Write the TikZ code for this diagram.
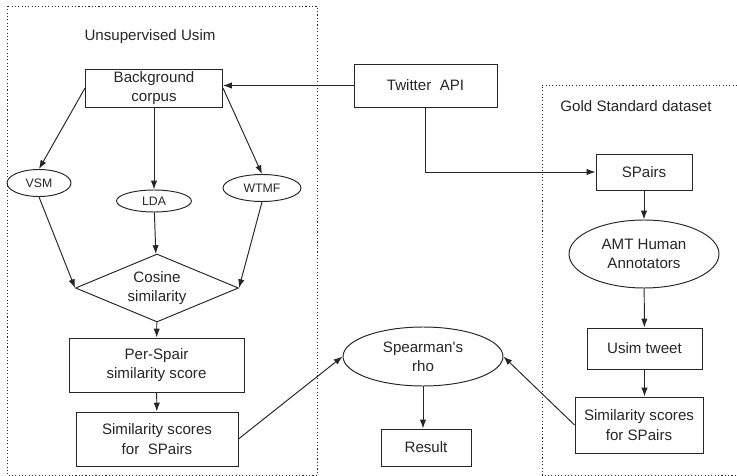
\documentclass[tikz,border=0pt]{standalone}
\usepackage{fontspec}
\setmainfont{Liberation Sans}
\usetikzlibrary{shapes.geometric,arrows.meta}

\tikzset{
	block/.style={draw, rectangle, align=center, inner sep=1pt, font=\fontsize{8.6}{11}\selectfont},
	oval/.style={draw, ellipse, align=center, inner sep=0pt, font=\fontsize{8.6}{11}\selectfont},
	smalloval/.style={draw, ellipse, inner sep=0pt, font=\fontsize{7}{8}\selectfont},
	heading/.style={font=\fontsize{8.6}{11}\selectfont},
	arr/.style={-{Latex[length=5pt,width=3.6pt]}},
	frame/.style={dash pattern=on 0.6pt off 1.3pt}
}

\begin{document}
\begin{tikzpicture}[x=0.02cm, y=-0.02cm, line width=0.55pt, color=black!85]
	\useasboundingbox (0,0) rectangle (737,476);

	% the two dotted groups
	\draw[frame] (7,6) rectangle (317,475);
	\draw[frame] (737,85) -| (542,475) -- (737,475);
	\node[heading] (unsup) at (150,37) {Unsupervised Usim};
	\node[heading] (gold) at (636,106) {Gold Standard dataset};

	% unsupervised side
	\node[block, minimum width=2.74cm, minimum height=0.76cm] (bg) at (154,88) {Background\\corpus};
	\node[smalloval, minimum width=1.28cm, minimum height=0.54cm] (vsm) at (39,183) {VSM};
	\node[smalloval, minimum width=1.5cm, minimum height=0.44cm] (lda) at (154,201) {LDA};
	\node[smalloval, minimum width=1.56cm, minimum height=0.54cm] (wtmf) at (262,188) {WTMF};
	\node[draw, diamond, shape aspect=2.4, inner sep=0pt, align=center,
		minimum width=3.26cm, minimum height=1.36cm,
		font=\fontsize{8.6}{11}\selectfont] (cos) at (157,288) {Cosine\\similarity};
	\node[block, minimum width=3.5cm, minimum height=1.08cm] (per) at (156.5,365) {Per-Spair\\similarity score};
	\node[block, minimum width=3.24cm, minimum height=1.08cm] (lsim) at (157,439) {Similarity scores\\for\ \ SPairs};

	% middle
	\node[block, minimum width=2.86cm, minimum height=0.86cm] (tw) at (425.5,85.5) {Twitter\ \ API};
	\node[oval, minimum width=3.2cm, minimum height=1.18cm] (spear) at (423,356.5) {Spearman\textquotesingle s\\rho};
	\node[block, minimum width=1.8cm, minimum height=0.74cm] (res) at (426,447.5) {Result};

	% gold standard side
	\node[block, minimum width=1.92cm, minimum height=0.72cm] (sp) at (644,172) {SPairs};
	\node[oval, minimum width=3cm, minimum height=1.36cm] (amt) at (644,254) {AMT Human\\Annotators};
	\node[block, minimum width=2.3cm, minimum height=0.82cm] (usim) at (644.5,348.5) {Usim tweet};
	\node[block, minimum width=2.56cm, minimum height=1.12cm] (rsim) at (639,425) {Similarity scores\\for SPairs};

	\draw[arr] (tw.west) -- (tw.west -| bg.east);
	\draw[arr] (tw.south) |- (sp.west);

	\draw[arr] (bg.west) -- (vsm.north);
	\draw[arr] (bg.south) -- (lda.north);
	\draw[arr] (bg.east) -- (wtmf.north);
	\draw[arr] (vsm.south) -- (cos.west);
	\draw[arr] (lda) -- (cos);
	\draw[arr] (wtmf.south) -- (cos.east);
	\draw[arr] (cos) -- (per);
	\draw[arr] (per) -- (lsim);

	\draw[arr] (lsim.east) -- (spear.west);
	\draw[arr] (rsim.west) -- (spear.east);
	\draw[arr] (spear.south) -- (spear.south |- res.north);

	\draw[arr] (sp) -- (amt);
	\draw[arr] (amt) -- (usim);
	\draw[arr] (usim.south) -- (usim.south |- rsim.north);
\end{tikzpicture}
\end{document}
